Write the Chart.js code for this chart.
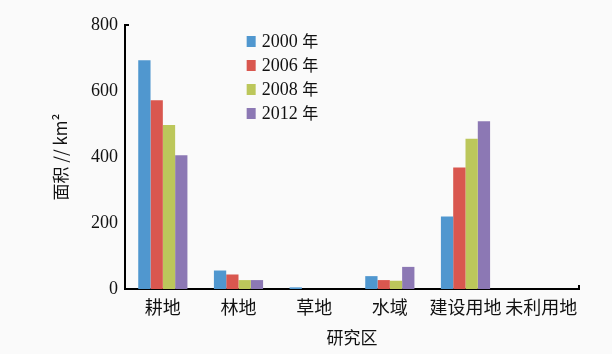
<!DOCTYPE html>
<html>
<head>
<meta charset="utf-8">
<script src="https://cdn.jsdelivr.net/npm/chart.js@4/dist/chart.umd.min.js"></script>
<style>
  html, body { margin: 0; padding: 0; background: #fafafa; }
  #wrap { width: 612px; height: 354px; }
</style>
</head>
<body>
<div id="wrap"><canvas id="c" width="612" height="354"></canvas></div>
<script>
// Land-use area by class (km²)
const categories = ['耕地', '林地', '草地', '水域', '建设用地', '未利用地'];
const years = ['2000 年', '2006 年', '2008 年', '2012 年'];
const area2000 = [693, 56, 5, 39, 220, 0];
const area2006 = [572, 44, 0, 27, 368, 0];
const area2008 = [497, 27, 0, 25, 455, 0];
const area2012 = [405, 27, 0, 67, 508, 0];
const yTicks = [0, 200, 400, 600, 800];

const colors = ['#5097cf', '#d9574f', '#bcc75b', '#8c78b4'];
const serif = '"Liberation Serif", "DejaVu Serif", serif';
const cjk = '"Noto Sans CJK SC", sans-serif';

// Vertical legend placed inside the plot area
const sideLegend = {
  id: 'sideLegend',
  afterDraw(chart) {
    const ctx = chart.ctx;
    const a = chart.chartArea;
    const x0 = a.left + (a.right - a.left) * 0.268;
    const y0 = a.top + 16;
    ctx.save();
    chart.data.datasets.forEach((ds, i) => {
      const y = y0 + i * 24;
      ctx.fillStyle = ds.backgroundColor;
      ctx.fillRect(x0, y - 5, 9, 11);
      ctx.fillStyle = '#111';
      ctx.textBaseline = 'middle';
      ctx.textAlign = 'left';
      const parts = ds.label.split(' ');
      ctx.font = '18px ' + serif;
      ctx.fillText(parts[0], x0 + 15, y + 1);
      const w = ctx.measureText(parts[0] + ' ').width;
      ctx.font = '16px ' + cjk;
      ctx.fillText(parts[1], x0 + 15 + w, y);
    });
    ctx.restore();
  }
};

// Short inward tick marks on the axes
const axisTicks = {
  id: 'axisTicks',
  afterDraw(chart) {
    const ctx = chart.ctx;
    const a = chart.chartArea;
    const ys = chart.scales.y;
    ctx.save();
    ctx.strokeStyle = '#000';
    ctx.lineWidth = 2;
    ctx.beginPath();
    const yt = ys.getPixelForValue(yTicks[yTicks.length - 1]);
    ctx.moveTo(a.left, yt);
    ctx.lineTo(a.left + 4, yt);
    ctx.moveTo(a.right, a.bottom);
    ctx.lineTo(a.right, a.bottom - 4);
    ctx.stroke();
    ctx.restore();
  }
};

const series = [area2000, area2006, area2008, area2012];

new Chart(document.getElementById('c'), {
  type: 'bar',
  data: {
    labels: categories,
    datasets: years.map((y, i) => ({
      label: y,
      data: series[i],
      backgroundColor: colors[i],
      borderWidth: 0,
      barPercentage: 1.0,
      categoryPercentage: 0.65
    }))
  },
  options: {
    responsive: false,
    animation: false,
    layout: { padding: { top: 25, right: 33, left: 0, bottom: 0 } },
    plugins: {
      legend: { display: false },
      tooltip: { enabled: false }
    },
    scales: {
      x: {
        grid: { display: false, drawTicks: false },
        border: { display: true, color: '#000', width: 2 },
        ticks: { color: '#111', font: { family: cjk, size: 18 }, padding: 7, maxRotation: 0, minRotation: 0, autoSkip: false },
        title: { display: true, text: '研究区', color: '#111', font: { family: cjk, size: 17 }, padding: { top: 0, bottom: 6 } },
        afterFit(s) { s.height = 65; }
      },
      y: {
        min: 0, max: 800,
        afterBuildTicks(s) { s.ticks = yTicks.map(v => ({ value: v })); },
        grid: { display: false, drawTicks: false },
        border: { display: true, color: '#000', width: 2 },
        ticks: { color: '#111', font: { family: serif, size: 18 }, padding: 7 },
        title: { display: true, text: '面积 // km²', color: '#111', font: { family: cjk, size: 17 }, padding: { top: 50, bottom: 0 } },
        afterFit(s) { s.width = 125; }
      }
    }
  },
  plugins: [sideLegend, axisTicks]
});
</script>
</body>
</html>
